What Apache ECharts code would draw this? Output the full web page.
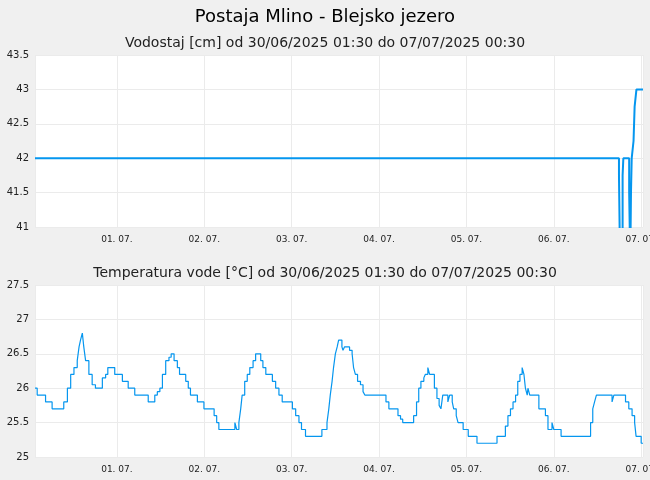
<!DOCTYPE html>
<html><head><meta charset="utf-8">
<script src="https://cdn.jsdelivr.net/npm/echarts@6/dist/echarts.min.js"></script>
<style>html,body{margin:0;padding:0;background:#f0f0f0}#c{width:650px;height:480px}</style>
</head><body><div id="c"></div>
<script>
// hours since 30/06/2025 00:00
const levelHours = [1.5, 161.9, 162.2, 162.9, 163.1, 164.7, 165.0, 165.2, 165.4, 165.9, 166.2, 166.7, 168.5];
const levelVals  = [42, 41.75, 40.5, 41.75, 42, 41.5, 40.5, 41.5, 42, 42.25, 42.75, 43, 43];
const tempHours = [1.5,2.1,4.4,6.2,9.4,10.4,11.3,12.2,13.1,13.6,14.0,14.5,14.9,15.4,16.3,17.2,18.1,18.6,20.0,20.9,21.5,23.4,25.5,27.1,28.9,32.6,34.4,35.1,35.8,36.5,37.4,38.3,38.9,39.7,40.6,41.2,42.9,43.6,44.2,46.1,47.9,50.7,51.4,52.0,56.4,56.9,57.5,58.0,58.4,59.1,59.8,60.5,61.4,62.1,63.5,64.1,64.9,66.7,67.6,68.5,69.4,72.2,73.1,74.0,74.7,75.8,
80.3,81.7,82.2,82.6,83.1,83.5,84.0,84.5,84.9,85.8,86.1,86.5,87.9,88.6,89.0,89.5,90.1,90.9,91.6,92.1,97.9,98.7,101.2,101.9,102.5,105.5,106.3,106.9,107.5,108.3,108.7,109.4,109.9,111.2,111.9,112.5,113.0,113.5,114.9,115.4,116.1,116.5,117.2,117.7,119.1,120.5,122.9,128.4,130.7,131.4,132.1,132.8,133.5,134.1,134.7,135.3,135.8,136.2,136.7,136.9,137.4,139.9,141.7,142.4,143.5,144.0,146.0,154.1,154.7,155.2,155.7,160.0,160.5,163.7,164.6,165.5,166.2,166.6,168.0,168.5];
const tempVals = [26.0,25.9,25.8,25.7,25.8,26.0,26.2,26.3,26.4,26.6,26.7,26.8,26.6,26.4,26.2,26.05,26.0,26.0,26.15,26.2,26.3,26.2,26.1,26.0,25.9,25.8,25.9,25.95,26.0,26.2,26.4,26.45,26.5,26.4,26.3,26.2,26.1,26.0,25.9,25.8,25.7,25.6,25.5,25.4,25.5,25.4,25.5,25.7,25.9,26.1,26.2,26.3,26.4,26.5,26.4,26.3,26.2,26.1,26.0,25.9,25.8,25.7,25.6,25.5,25.4,25.3,
25.4,25.5,25.7,25.9,26.1,26.3,26.5,26.6,26.7,26.6,26.55,26.6,26.55,26.5,26.3,26.2,26.1,26.05,25.95,25.9,25.8,25.7,25.6,25.55,25.5,25.6,25.8,26.0,26.1,26.15,26.2,26.3,26.2,26.0,25.85,25.75,25.7,25.9,25.8,25.9,25.8,25.7,25.6,25.5,25.4,25.3,25.2,25.3,25.45,25.6,25.7,25.8,25.9,26.1,26.2,26.3,26.2,26.0,25.9,26.0,25.9,25.7,25.6,25.4,25.5,25.4,25.3,25.5,25.7,25.8,25.9,25.8,25.9,25.8,25.7,25.6,25.5,25.3,25.2,25.2];
const base = new Date(2025,5,30,0,0).getTime();
const H = 3600e3;
const toPts = (hs, vs) => hs.map((h,i)=>[base+h*H, vs[i]]);
const fmt = v => { const d=new Date(v); const p=n=>String(n).padStart(2,'0'); return p(d.getDate())+'. '+p(d.getMonth()+1)+'.'; };
const ch = echarts.init(document.getElementById('c'));
const xa = gi => ({type:'time', gridIndex:gi, min:base+1.5*H, max:base+168.5*H, minInterval:24*H, maxInterval:24*H,
  axisLine:{show:false}, axisTick:{show:false}, splitLine:{show:true,lineStyle:{color:'#ebebeb'}},
  axisLabel:{formatter:fmt, fontSize:9, color:'#222', fontFamily:'DejaVu Sans', showMinLabel:false, margin:8, hideOverlap:false}});
const ya = (gi,mn,mx) => ({type:'value', gridIndex:gi, min:mn, max:mx, interval:0.5,
  axisLine:{show:false}, axisTick:{show:false}, splitLine:{lineStyle:{color:'#ebebeb'}},
  axisLabel:{fontSize:10, color:'#222', fontFamily:'DejaVu Sans', margin:6}});
ch.setOption({
  backgroundColor:'#f0f0f0', animation:false,
  title:[
    {text:'Postaja Mlino - Blejsko jezero', left:'center', top:3, textStyle:{fontSize:18,fontWeight:'normal',color:'#000',fontFamily:'DejaVu Sans'}},
    {text:'Vodostaj [cm] od 30/06/2025 01:30 do 07/07/2025 00:30', left:'center', top:31, textStyle:{fontSize:14,fontWeight:'normal',color:'#222',fontFamily:'DejaVu Sans'}},
    {text:'Temperatura vode [°C] od 30/06/2025 01:30 do 07/07/2025 00:30', left:'center', top:261, textStyle:{fontSize:14,fontWeight:'normal',color:'#222',fontFamily:'DejaVu Sans'}}
  ],
  grid:[
    {left:35, top:55, width:608, height:172, show:true, backgroundColor:'#fff', borderWidth:0, outerBoundsMode:'none', containLabel:false},
    {left:35, top:285, width:608, height:172, show:true, backgroundColor:'#fff', borderWidth:0, outerBoundsMode:'none', containLabel:false}
  ],
  xAxis:[xa(0), xa(1)],
  yAxis:[ya(0,41,43.5), ya(1,25,27.5)],
  series:[
    {type:'line', xAxisIndex:0, yAxisIndex:0, step:'end', showSymbol:false, data:toPts(levelHours,levelVals), lineStyle:{color:'#0596ef',width:2}, clip:true},
    {type:'line', xAxisIndex:1, yAxisIndex:1, step:'end', showSymbol:false, data:toPts(tempHours,tempVals), lineStyle:{color:'#0596ef',width:1.2}, clip:true}
  ]
});
</script></body></html>
